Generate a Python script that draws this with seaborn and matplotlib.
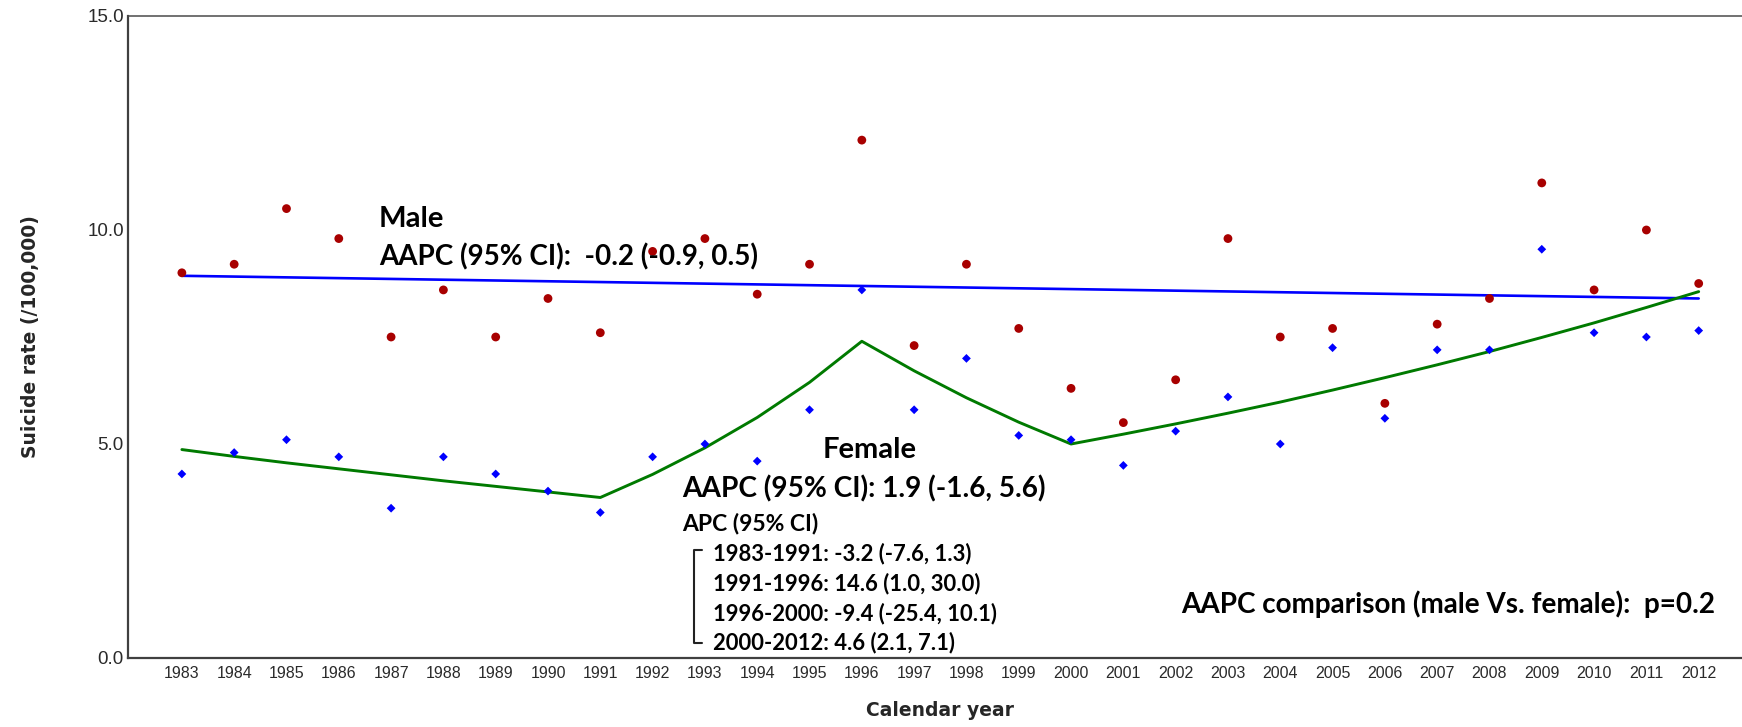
import matplotlib
matplotlib.use("Agg")
import matplotlib.pyplot as plt
import seaborn as sns
import pandas as pd

# ---- data ----
years = list(range(1983, 2013))
male_rate = [9.0, 9.2, 10.5, 9.8, 7.5, 8.6, 7.5, 8.4, 7.6, 9.5,
             9.8, 8.5, 9.2, 12.1, 7.3, 9.2, 7.7, 6.3, 5.5, 6.5,
             9.8, 7.5, 7.7, 5.95, 7.8, 8.4, 11.1, 8.6, 10.0, 8.75]
female_rate = [4.3, 4.8, 5.1, 4.7, 3.5, 4.7, 4.3, 3.9, 3.4, 4.7,
               5.0, 4.6, 5.8, 8.6, 5.8, 7.0, 5.2, 5.1, 4.5, 5.3,
               6.1, 5.0, 7.25, 5.6, 7.2, 7.2, 9.55, 7.6, 7.5, 7.65]
male_trend_years = [1983, 2012]
male_trend = [8.93, 8.40]
female_trend = [4.87, 4.71, 4.56, 4.42, 4.28, 4.14, 4.01, 3.88, 3.75, 4.29,
                4.91, 5.62, 6.44, 7.40, 6.71, 6.08, 5.51, 5.00, 5.23, 5.47,
                5.72, 5.98, 6.26, 6.55, 6.85, 7.16, 7.49, 7.83, 8.19, 8.56]
y_ticks = [0.0, 5.0, 10.0, 15.0]
apc_lines = ["1983-1991: -3.2 (-7.6, 1.3)",
             "1991-1996: 14.6 (1.0, 30.0)",
             "1996-2000: -9.4 (-25.4, 10.1)",
             "2000-2012: 4.6 (2.1, 7.1)"]

pts = pd.DataFrame({"year": years, "male": male_rate, "female": female_rate})
mtr = pd.DataFrame({"year": male_trend_years, "rate": male_trend})
ftr = pd.DataFrame({"year": years, "rate": female_trend})

sns.set_style("white")
plt.rcParams["font.family"] = ["DejaVu Sans"]

W, H = 1742, 727
fig = plt.figure(figsize=(W / 100, H / 100), dpi=100)
L, R, T, B = 128, 1751, 16, 658
ax = fig.add_axes([L / W, 1 - B / H, (R - L) / W, (B - T) / H])

sns.lineplot(data=mtr, x="year", y="rate", ax=ax, color="#0000ff",
             linewidth=1.9, estimator=None, sort=False, zorder=2)
sns.lineplot(data=ftr, x="year", y="rate", ax=ax, color="#007a00",
             linewidth=2.1, estimator=None, sort=False, zorder=2)
sns.scatterplot(data=pts, x="year", y="male", ax=ax, color="#a80000",
                marker="o", s=40, edgecolor="none", zorder=3)
sns.scatterplot(data=pts, x="year", y="female", ax=ax, color="#0000ff",
                marker="D", s=20, edgecolor="none", zorder=3)

ax.set_xlim(1981.97, 2013.0)
ax.set_ylim(0, 15)
ax.set_xticks(years)
ax.set_xticklabels([str(y) for y in years],
                   fontfamily=["Liberation Sans Narrow", "Liberation Sans", "DejaVu Sans"],
                   fontsize=11.5, color="#2a2a2a")
ax.set_yticks(y_ticks)
ax.set_yticklabels([f"{v:.1f}" for v in y_ticks],
                   fontfamily=["Liberation Sans", "DejaVu Sans"],
                   fontsize=13.5, color="#2a2a2a")
ax.tick_params(axis="both", length=0, pad=6)
ax.tick_params(axis="y", pad=3)

ax.set_xlabel("Calendar year", fontsize=13.5, fontweight="bold")
ax.set_ylabel("Suicide rate (/100,000)", fontsize=13.5, fontweight="bold")
ax.xaxis.set_label_coords(0.5, (B - 710) / (B - T), transform=ax.transAxes)
ax.yaxis.set_label_coords((30 - L) / (R - L), (B - 337) / (B - T), transform=ax.transAxes)
ax.xaxis.label.set_va("center")
ax.yaxis.label.set_va("center")

for side in ["left", "bottom"]:
    ax.spines[side].set_color("#404040")
    ax.spines[side].set_linewidth(1.6)
ax.spines["top"].set_color("#4a4a4a")
ax.spines["top"].set_linewidth(1.1)
ax.spines["right"].set_visible(False)

ann = dict(fontfamily=["Lato", "DejaVu Sans"], fontweight="bold", color="black",
           va="baseline", ha="left", zorder=5)
ax.text(1986.77, 10.07, "Male", fontsize=21, **ann)
ax.text(1986.77, 9.18, "AAPC (95% CI):  -0.2 (-0.9, 0.5)", fontsize=20, **ann)
ax.text(1995.25, 4.67, "Female", fontsize=21, **ann)
ax.text(1992.56, 3.76, "AAPC (95% CI): 1.9 (-1.6, 5.6)", fontsize=20.2, **ann)
ax.text(1992.56, 2.99, "APC (95% CI)", fontsize=16.5, **ann)
for yv, s in zip([2.27, 1.57, 0.89, 0.20], apc_lines):
    ax.text(1993.15, yv, s, fontsize=15.8, **ann)
ax.plot([1992.95, 1992.79, 1992.79, 1992.95], [2.52, 2.52, 0.34, 0.34],
        color="#222222", linewidth=1.5, zorder=5)
ax.text(2002.10, 1.05, "AAPC comparison (male Vs. female):  p=0.2", fontsize=20.1, **ann)

fig.savefig("out.png", dpi=100)
